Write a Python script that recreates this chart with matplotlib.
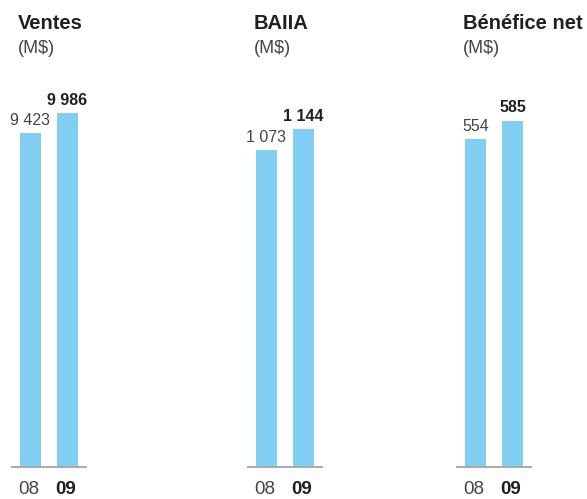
import numpy as np
import matplotlib.pyplot as plt

plt.rcParams['font.family'] = ['Liberation Sans', 'DejaVu Sans']

titres = ['Ventes', 'BAIIA', 'Bénéfice net']
unite = '(M$)'
annees = ['08', '09']
valeurs_08 = [9423, 1073, 554]
valeurs_09 = [9986, 1144, 585]
etiquettes_08 = ['9 423', '1 073', '554']
etiquettes_09 = ['9 986', '1 144', '585']

# echelle propre a chaque panneau
ymax = [10350, 1242, 620]

W, H = 587, 499
fig = plt.figure(figsize=(W / 100, H / 100), dpi=100)

bleu = '#80cff3'
gris = '#a9a9a9'
texte = '#231f20'

gauches = [12, 248, 457]
largeur = 74
bas = 467
haut = 100

for i in range(3):
    ax = fig.add_axes([gauches[i] / W, (H - bas) / H, largeur / W, (bas - haut) / H])
    x = np.arange(2)
    vals = [valeurs_08[i], valeurs_09[i]]
    ax.bar(x, vals, width=0.57, color=bleu, zorder=2)
    ax.set_xlim(-0.5, 1.5)
    ax.set_ylim(0, ymax[i])
    ax.axhline(0, color=gris, lw=1.4, zorder=3, clip_on=False)
    for s in ax.spines.values():
        s.set_visible(False)
    ax.set_yticks([])
    ax.set_xticks(x - 0.06)
    ax.set_xticklabels(annees)
    ax.tick_params(axis='x', length=0, pad=10, labelsize=13.5, colors=texte)
    lbls = ax.get_xticklabels()
    lbls[0].set_color('#444444')
    lbls[1].set_fontweight('bold')

    ax.annotate(etiquettes_08[i], (0, vals[0]), xytext=(0, 5.5), textcoords='offset points',
                ha='center', va='baseline', fontsize=11.5, color='#444444')
    ax.annotate(etiquettes_09[i], (1, vals[1]), xytext=(0, 6), textcoords='offset points',
                ha='center', va='baseline', fontsize=11.5, color=texte, fontweight='bold')

    fig.text((gauches[i] + 6) / W, (H - 29) / H, titres[i], fontsize=14.5,
             fontweight='bold', color=texte, va='baseline')
    fig.text((gauches[i] + 6) / W, (H - 53) / H, unite, fontsize=13,
             color='#444444', va='baseline')

fig.savefig('out.png', dpi=100)
